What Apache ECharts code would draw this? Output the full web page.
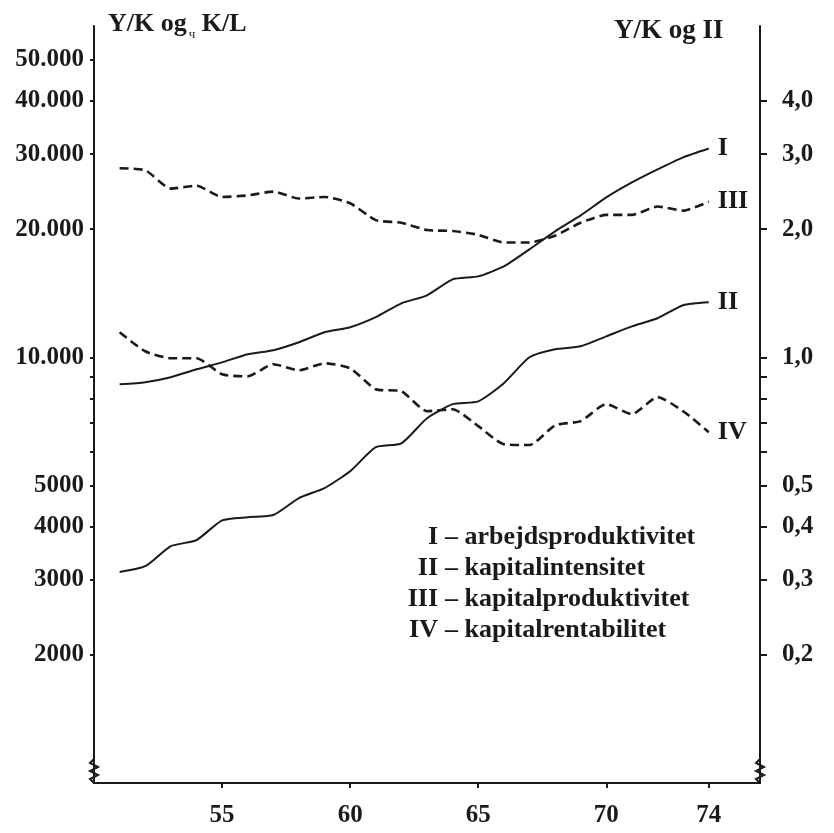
<!DOCTYPE html>
<html>
<head>
<meta charset="utf-8">
<script src="https://cdn.jsdelivr.net/npm/echarts@6/dist/echarts.min.js"></script>
<style>
html, body { margin: 0; padding: 0; background: #fff; }
#chart { width: 834px; height: 833px; }
</style>
</head>
<body>
<div id="chart"></div>
<script>
// år 1951-1974
var years = [51, 52, 53, 54, 55, 56, 57, 58, 59, 60, 61, 62, 63, 64, 65, 66, 67, 68, 69, 70, 71, 72, 73, 74];

// venstre akse (kr)
var arbejdsproduktivitet = [8640, 8740, 8980, 9370, 9730, 10160, 10390, 10850, 11450, 11760, 12420, 13390,
    13980, 15240, 15490, 16350, 17930, 19760, 21540, 23750, 25750, 27630, 29490, 30940];
var kapitalintensitet = [3130, 3230, 3600, 3720, 4140, 4210, 4260, 4670, 4930, 5400, 6150, 6280,
    7190, 7760, 7880, 8690, 10000, 10440, 10610, 11200, 11820, 12350, 13250, 13460];

// højre akse
var kapitalproduktivitet = [2.78, 2.75, 2.49, 2.53, 2.38, 2.40, 2.45, 2.36, 2.38, 2.30, 2.10, 2.07,
    1.99, 1.98, 1.94, 1.86, 1.86, 1.93, 2.07, 2.16, 2.16, 2.26, 2.21, 2.32];
var kapitalrentabilitet = [1.145, 1.033, 0.995, 0.995, 0.912, 0.902, 0.963, 0.932, 0.968, 0.942, 0.841, 0.832,
    0.747, 0.755, 0.689, 0.625, 0.622, 0.692, 0.708, 0.776, 0.735, 0.806, 0.747, 0.667];

var xTicks = [55, 60, 65, 70, 74];
var leftTicks = [2000, 3000, 4000, 5000, 6000, 7000, 8000, 9000, 10000, 20000, 30000, 40000, 50000];
var leftLabels = [2000, 3000, 4000, 5000, 10000, 20000, 30000, 40000, 50000];
var rightTicks = [0.2, 0.3, 0.4, 0.5, 0.6, 0.7, 0.8, 0.9, 1, 2, 3, 4];
var rightLabels = [0.2, 0.3, 0.4, 0.5, 1, 2, 3, 4];

var legendRows = [
    ['I', 'arbejdsproduktivitet'],
    ['II', 'kapitalintensitet'],
    ['III', 'kapitalproduktivitet'],
    ['IV', 'kapitalrentabilitet']
];

var font = '"Liberation Serif", "DejaVu Serif", serif';
var ink = '#1a1a1a';

function pairs(vals) {
    return years.map(function (y, i) { return [y, vals[i]]; });
}

function line(name, vals, axis, dashed) {
    return {
        name: name,
        type: 'line',
        yAxisIndex: axis,
        data: pairs(vals),
        symbol: 'none',
        smooth: 0.2,
        silent: true,
        lineStyle: {
            color: ink,
            width: dashed ? 2.6 : 2,
            type: dashed ? [9, 5] : 'solid'
        },
        endLabel: {
            show: true,
            formatter: name,
            distance: 9,
            color: ink,
            fontFamily: font,
            fontWeight: 'bold',
            fontSize: 26
        }
    };
}

var chart = window.echarts.init(document.getElementById('chart'));

var option = {
    animation: false,
    backgroundColor: '#fff',
    grid: {left: 94, right: 74, top: 26, bottom: 50},
    xAxis: {
        type: 'value',
        min: 50,
        max: 76,
        splitLine: {show: false},
        axisLine: {lineStyle: {color: ink, width: 2}},
        axisTick: {customValues: xTicks, length: 5, lineStyle: {color: ink, width: 2}},
        axisLabel: {
            customValues: xTicks,
            margin: 20,
            color: ink,
            fontFamily: font,
            fontWeight: 'bold',
            fontSize: 25
        }
    },
    yAxis: [{
        type: 'log',
        logBase: 10,
        min: 1000,
        max: 60000,
        splitLine: {show: false},
        axisLine: {show: true, lineStyle: {color: ink, width: 2}},
        axisTick: {customValues: leftTicks, length: 4, lineStyle: {color: ink, width: 2}},
        axisLabel: {
            customValues: leftLabels,
            margin: 10,
            color: ink,
            fontFamily: font,
            fontWeight: 'bold',
            fontSize: 25,
            formatter: function (v) {
                v = Math.round(v);
                return v >= 10000 ? (v / 1000) + '.000' : String(v);
            }
        }
    }, {
        type: 'log',
        logBase: 10,
        min: 0.1,
        max: 6,
        position: 'right',
        splitLine: {show: false},
        axisLine: {show: true, lineStyle: {color: ink, width: 2}},
        axisTick: {customValues: rightTicks, length: 7, lineStyle: {color: ink, width: 2}},
        axisLabel: {
            customValues: rightLabels,
            margin: 22,
            color: ink,
            fontFamily: font,
            fontWeight: 'bold',
            fontSize: 25,
            formatter: function (v) {
                return (Math.round(v * 10) / 10).toFixed(1).replace('.', ',');
            }
        }
    }],
    series: [
        line('I', arbejdsproduktivitet, 0, false),
        line('II', kapitalintensitet, 0, false),
        line('III', kapitalproduktivitet, 1, true),
        line('IV', kapitalrentabilitet, 1, true)
    ]
};

chart.setOption(option);

// titler, forklaring og akse-brud
var graphics = [];
graphics.push({
    type: 'text', left: 108, top: 11,
    style: {
        text: '{a|Y/K og}{s|ч}{a| K/L}',
        rich: {
            a: {fontFamily: font, fontSize: 26, fontWeight: 'bold', fill: ink},
            s: {fontFamily: font, fontSize: 13, fill: ink, padding: [22, 0, 0, 2]}
        }
    }
});
graphics.push({
    type: 'text', left: 614, top: 18,
    style: {text: 'Y/K og II', fontFamily: font, fontSize: 27, fontWeight: 'bold', fill: ink}
});
legendRows.forEach(function (row, i) {
    var y = 524 + i * 31;
    graphics.push({
        type: 'text', x: 438, y: y,
        style: {text: row[0], textAlign: 'right', fontFamily: font, fontSize: 26, fontWeight: 'bold', fill: ink}
    });
    graphics.push({
        type: 'text', x: 445, y: y,
        style: {text: '– ' + row[1], textAlign: 'left', fontFamily: font, fontSize: 26, fontWeight: 'bold', fill: ink}
    });
});

var bl = chart.convertToPixel({gridIndex: 0}, [50, 1000]);
var br = chart.convertToPixel({gridIndex: 0}, [76, 1000]);
[bl[0], br[0]].forEach(function (x) {
    var b = bl[1];
    graphics.push({
        type: 'rect', shape: {x: x - 3, y: b - 22, width: 6, height: 18},
        style: {fill: '#fff'}
    });
    graphics.push({
        type: 'polyline',
        shape: {points: [[x, b - 24], [x - 4, b - 20], [x + 4, b - 16], [x - 4, b - 12], [x + 4, b - 8], [x - 4, b - 4], [x, b]]},
        style: {stroke: ink, lineWidth: 2, fill: 'none'}
    });
});

chart.setOption({graphic: graphics});
</script>
</body>
</html>
